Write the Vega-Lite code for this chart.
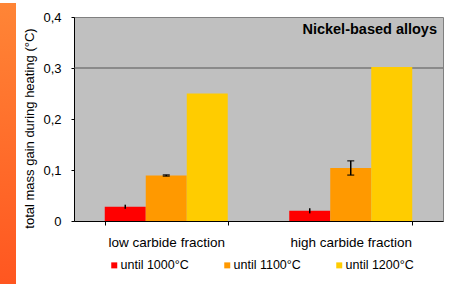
{
  "$schema": "https://vega.github.io/schema/vega-lite/v6.json",
  "padding": 0,
  "background": "#ffffff",
  "config": {
    "font": "Liberation Sans",
    "concat": {"spacing": 0}
  },
  "datasets": {
    "gain": [
      {"group": "low carbide fraction", "series": "until 1000°C", "value": 0.028, "lo": 0.024, "hi": 0.032},
      {"group": "low carbide fraction", "series": "until 1100°C", "value": 0.089, "lo": 0.088, "hi": 0.0905},
      {"group": "low carbide fraction", "series": "until 1200°C", "value": 0.25, "lo": null, "hi": null},
      {"group": "high carbide fraction", "series": "until 1000°C", "value": 0.02, "lo": 0.015, "hi": 0.025},
      {"group": "high carbide fraction", "series": "until 1100°C", "value": 0.104, "lo": 0.09, "hi": 0.118},
      {"group": "high carbide fraction", "series": "until 1200°C", "value": 0.302, "lo": null, "hi": null}
    ],
    "grid": [{"y": 0.3}],
    "strip": [{"strip": "band"}],
    "blank": [{}]
  },
  "hconcat": [
    {
      "width": 16,
      "height": 284,
      "data": {"name": "strip"},
      "view": {"stroke": null},
      "mark": {
        "type": "rect",
        "color": {
          "gradient": "linear", "x1": 0, "y1": 0, "x2": 0, "y2": 1,
          "stops": [{"offset": 0, "color": "#FF8536"}, {"offset": 1, "color": "#FF5620"}]
        }
      },
      "encoding": {}
    },
    {
      "vconcat": [
        {
          "width": 369,
          "height": 1,
          "data": {"name": "blank"},
          "view": {"stroke": null},
          "mark": {"type": "point", "opacity": 0},
          "encoding": {}
        },
        {
          "width": 369,
          "height": 204,
          "view": {"fill": "#C0C0C0", "stroke": "#808080"},
          "title": {
            "text": "Nickel-based alloys",
            "anchor": "end",
            "frame": "group",
            "fontSize": 14.5,
            "fontWeight": "bold",
            "color": "#000000",
            "baseline": "alphabetic",
            "offset": -37,
            "dx": -6
          },
          "layer": [
            {
              "data": {"name": "grid"},
              "mark": {"type": "rule", "color": "#555555", "strokeWidth": 1},
              "encoding": {"y": {"field": "y", "type": "quantitative"}}
            },
            {
              "data": {"name": "gain"},
              "mark": {"type": "bar"},
              "encoding": {
                "x": {
                  "field": "group", "type": "nominal", "sort": null,
                  "scale": {"paddingInner": 0.3333, "paddingOuter": 0.1667},
                  "axis": {
                    "title": null, "labelAngle": 0, "labelFontSize": 13.5, "labelColor": "#000000",
                    "labelPadding": 10, "ticks": true, "tickBand": "extent", "tickSize": 4,
                    "tickColor": "#000000", "domainColor": "#000000"
                  }
                },
                "xOffset": {
                  "field": "series", "type": "nominal", "sort": null,
                  "scale": {"paddingInner": 0, "paddingOuter": 0}
                },
                "y": {
                  "field": "value", "type": "quantitative",
                  "scale": {"domain": [0, 0.4], "nice": false},
                  "axis": {
                    "values": [0, 0.1, 0.2, 0.3, 0.4],
                    "labelExpr": "replace(format(datum.value, '~g'), '.', ',')",
                    "title": "total mass gain during heating (°C)",
                    "titleFontWeight": "normal", "titleFontSize": 13, "titleColor": "#000000",
                    "labelFontSize": 13, "labelColor": "#000000",
                    "grid": false, "domainColor": "#000000", "tickColor": "#000000",
                    "tickSize": 3, "labelPadding": 10,
                    "titleX": -38, "titleY": 111
                  }
                },
                "color": {
                  "field": "series", "type": "nominal", "sort": null,
                  "scale": {"range": ["#FF0000", "#FF9900", "#FFCC00"]},
                  "legend": {
                    "title": null, "orient": "none", "legendX": 108, "legendY": 256,
                    "direction": "horizontal", "symbolType": "square", "symbolSize": 36,
                    "symbolStrokeWidth": 0, "labelFontSize": 12.5, "labelColor": "#000000",
                    "labelOffset": 0, "columnPadding": 32, "padding": 0
                  }
                }
              }
            },
            {
              "data": {"name": "gain"},
              "transform": [{"filter": "isValid(datum.lo)"}],
              "mark": {"type": "rule", "color": "#000000", "strokeWidth": 1.5},
              "encoding": {
                "x": {"field": "group", "type": "nominal", "sort": null},
                "xOffset": {"field": "series", "type": "nominal", "sort": null},
                "y": {"field": "lo", "type": "quantitative"},
                "y2": {"field": "hi"}
              }
            },
            {
              "data": {"name": "gain"},
              "transform": [{"filter": "isValid(datum.lo) && datum.series != 'until 1000°C'"}],
              "mark": {"type": "tick", "color": "#000000", "size": 7, "thickness": 1.5},
              "encoding": {
                "x": {"field": "group", "type": "nominal", "sort": null},
                "xOffset": {"field": "series", "type": "nominal", "sort": null},
                "y": {"field": "lo", "type": "quantitative"}
              }
            },
            {
              "data": {"name": "gain"},
              "transform": [{"filter": "isValid(datum.lo) && datum.series != 'until 1000°C'"}],
              "mark": {"type": "tick", "color": "#000000", "size": 7, "thickness": 1.5},
              "encoding": {
                "x": {"field": "group", "type": "nominal", "sort": null},
                "xOffset": {"field": "series", "type": "nominal", "sort": null},
                "y": {"field": "hi", "type": "quantitative"}
              }
            }
          ]
        }
      ],
      "spacing": 13,
      "bounds": "flush"
    }
  ],
  "spacing": 58,
  "bounds": "flush"
}
